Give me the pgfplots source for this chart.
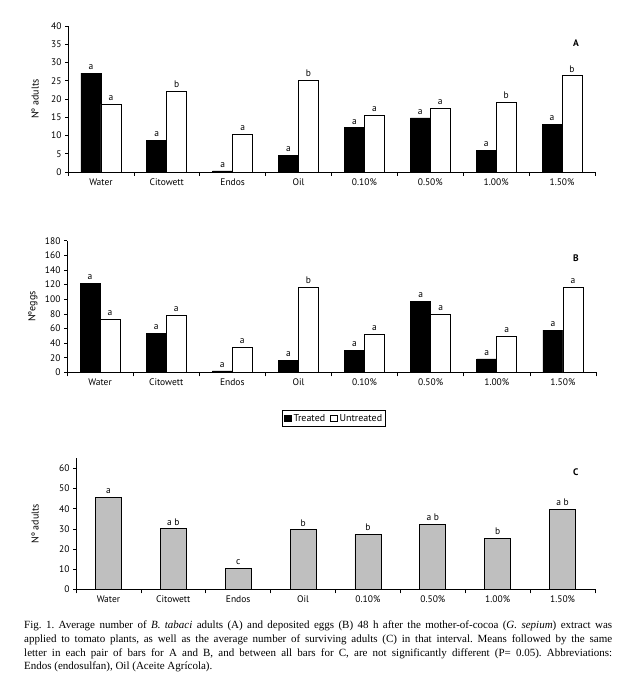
\documentclass[border=0pt]{standalone}
\usepackage{fontspec}
\setmainfont{PT Sans}
\newfontfamily\capfont{Liberation Serif}
\usepackage{pgfplots}
\pgfplotsset{compat=1.18}

\pgfplotsset{
  panel/.style={
    scale only axis,
    anchor=south west,
    axis x line=bottom,
    axis y line=left,
    axis line style={-,line width=0.8pt},
    ymin=0,
    xmin=-0.5, xmax=7.5,
    xtick={0,...,7},
    xticklabels={Water,Citowett,Endos,Oil,0.10\%,0.50\%,1.00\%,1.50\%},
    major x tick style={draw=none},
    minor xtick={-0.5,0.5,...,7.5},
    minor tick length=4pt,
    major tick length=3pt,
    tick align=outside,
    tick style={line width=0.6pt,black},
    ticklabel style={font=\fontsize{9.5}{10}\selectfont},
    /pgf/number format/assume math mode=true,
    label style={font=\fontsize{9.5}{11}\selectfont},
    point meta=explicit symbolic,
    nodes near coords={\pgfplotspointmeta},
    every node near coord/.style={font=\fontsize{9.5}{10}\selectfont,anchor=south,inner sep=1pt,yshift=2pt,black},
    clip=false,
  },
}
\tikzset{letter/.style={font=\bfseries\fontsize{9.5}{10}\selectfont}}

\begin{document}
\begin{tikzpicture}
\path[use as bounding box] (0pt,0pt) rectangle (628pt,-692pt);

% Panel A: adults
\begin{axis}[panel,
  at={(68pt,-172pt)}, width=527pt, height=146pt,
  ymax=40, ytick={0,5,...,40},
  ybar=0pt, bar width=20pt,
  ylabel={Nº adults},
  every axis y label/.style={at={(axis description cs:-0.0626,0.5)},rotate=90,anchor=center},
]
\addplot[fill=black,draw=black,line width=0.7pt] coordinates {
  (0,27.1) [a] (1,8.7) [a] (2,0.3) [a] (3,4.6) [a]
  (4,12.1) [a] (5,14.8) [a] (6,6.0) [a] (7,13.1) [a]};
\addplot[fill=white,draw=black,line width=0.7pt] coordinates {
  (0,18.6) [a] (1,22.2) [b] (2,10.4) [a] (3,25.1) [b]
  (4,15.6) [a] (5,17.5) [a] (6,19.1) [b] (7,26.4) [b]};
\node[letter] at (rel axis cs:0.964,0.884) {A};
\end{axis}

% Panel B: eggs
\begin{axis}[panel,
  at={(67pt,-372.3pt)}, width=529pt, height=131.6pt,
  ymax=180, ytick={0,20,...,180},
  ybar=0pt, bar width=20pt,
  ylabel={Nºeggs},
  every axis y label/.style={at={(axis description cs:-0.0643,0.5)},rotate=90,anchor=center},
  legend style={at={(axis description cs:0.505,-0.35)},anchor=center,
    legend columns=2,draw=black,line width=0.6pt,
    font=\fontsize{10}{11}\selectfont,inner sep=1.5pt,
    /tikz/every even column/.append style={column sep=3pt}},
  legend image code/.code={\draw[#1,line width=0.6pt] (0pt,-3.4pt) rectangle (6.8pt,3.4pt);},
]
\addplot[fill=black,draw=black,line width=0.7pt] coordinates {
  (0,122) [a] (1,53.7) [a] (2,1.8) [a] (3,16.8) [a]
  (4,30.5) [a] (5,97.5) [a] (6,18.2) [a] (7,57.8) [a]};
\addplot[fill=white,draw=black,line width=0.7pt] coordinates {
  (0,72.9) [a] (1,78.3) [a] (2,34.6) [a] (3,116.2) [b]
  (4,52.4) [a] (5,79.2) [a] (6,49.6) [a] (7,116.2) [a]};
\legend{Treated,Untreated}
\node[letter] at (rel axis cs:0.962,0.869) {B};
\end{axis}

% Panel C: surviving adults
\begin{axis}[panel,
  at={(76pt,-589.3pt)}, width=519pt, height=131pt,
  ymax=65, ytick={0,10,...,60},
  ybar, bar width=26pt,
  ylabel={Nº adults},
  every axis y label/.style={at={(axis description cs:-0.079,0.5)},rotate=90,anchor=center},
]
\addplot[fill=black!25,draw=black,line width=0.7pt] coordinates {
  (0,45.6) [a] (1,30.2) [a b] (2,10.4) [c] (3,29.7) [b]
  (4,27.3) [b] (5,32.2) [a b] (6,25.3) [b] (7,39.7) [a b]};
\node[letter] at (rel axis cs:0.963,0.895) {C};
\end{axis}

\node[anchor=north west,inner sep=0pt,text width=588pt,align=justify,
  font=\capfont\fontsize{11}{13.6}\selectfont\frenchspacing] at (24pt,-621pt)
{Fig. 1. Average number of \textit{B. tabaci} adults (A) and deposited eggs (B) 48 h after the mother-of-cocoa (\textit{G. sepium}) extract was\linebreak
applied to tomato plants, as well as the average number of surviving adults (C) in that interval. Means followed by the same\linebreak
letter in each pair of bars for A and B, and between all bars for C, are not significantly different (P= 0.05). Abbreviations:\linebreak
Endos (endosulfan), Oil (Aceite Agrícola).};
\end{tikzpicture}
\end{document}
